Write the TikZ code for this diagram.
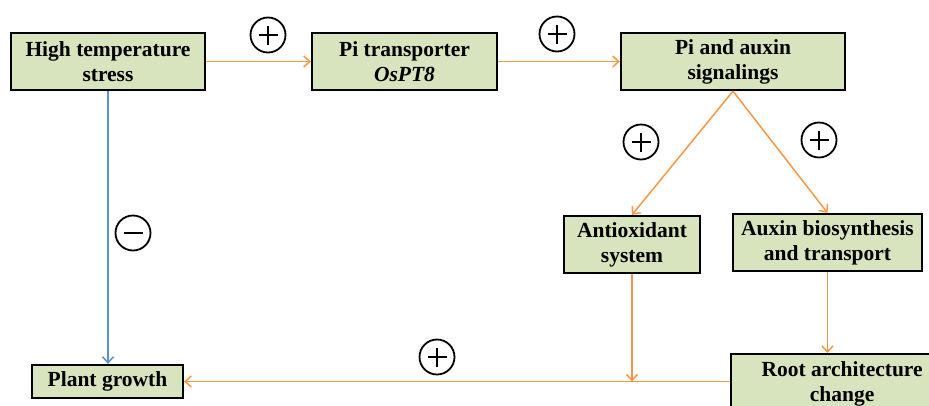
\documentclass[tikz,border=0pt]{standalone}
\usepackage{fontspec}
\setmainfont{Liberation Serif}
\usetikzlibrary{arrows.meta}
\definecolor{boxfill}{HTML}{D7E4BD}
\definecolor{arrorange}{HTML}{F79646}
\definecolor{arrblue}{RGB}{95,145,205}
\begin{document}
\begin{tikzpicture}[x=1pt,y=-1pt,
  box/.style={draw=black,fill=boxfill,line width=2.3pt,align=center,inner sep=0pt,
    font=\fontsize{21.5}{25}\selectfont\bfseries},
  oarr/.style={draw=arrorange,line width=1.5pt,-{Straight Barb[length=6pt,width=11pt]}},
  barr/.style={draw=arrblue,line width=1.5pt,-{Straight Barb[length=6pt,width=11pt]}},
  sign/.style={circle,draw=black,line width=1.8pt,minimum size=35pt,inner sep=0pt},
  plus/.style={sign,path picture={
    \draw[line width=1.5pt] ([xshift=-9.5pt]path picture bounding box.center) -- ([xshift=9.5pt]path picture bounding box.center);
    \draw[line width=1.5pt] ([yshift=-9.5pt]path picture bounding box.center) -- ([yshift=9.5pt]path picture bounding box.center);}},
  minus/.style={sign,path picture={
    \draw[line width=1.5pt] ([xshift=-9.5pt]path picture bounding box.center) -- ([xshift=9.5pt]path picture bounding box.center);}}
]
\useasboundingbox (0,0) rectangle (929,405);
\clip (0,0) rectangle (929,405);

\node[box,minimum width=194pt,minimum height=57pt] (ht) at (108,61.5) {High temperature\\stress};
\node[box,minimum width=185pt,minimum height=57pt] (pt) at (404.5,61.5) {Pi transporter\\\textit{OsPT8}};
\node[box,minimum width=224pt,minimum height=57pt] (pa) at (733,61.5) {Pi and auxin\\signalings};
\node[box,minimum width=136pt,minimum height=57pt] (ao) at (632,244.5) {Antioxidant\\system};
\node[box,minimum width=189pt,minimum height=57pt] (ab) at (827.5,242.5) {Auxin biosynthesis\\and transport};
\node[box,minimum width=151pt,minimum height=33pt] (pg) at (107.5,381.5) {Plant growth};
\node[box,minimum width=222pt,minimum height=60pt,anchor=north west] (ra) at (730,353) {Root architecture\\change};

\coordinate (j) at (ao.south |- pg.east);
\coordinate (abend) at (ab.south |- ra.north);
\coordinate (htend) at (ht.south |- pg.north);
\coordinate (raw) at (ra.west |- pg.east);

\draw[oarr] (ht.east) -- (pt.west);
\draw[oarr] (pt.east) -- (pa.west);
\draw[oarr] (pa.south) -- (ao.north);
\draw[oarr] (pa.south) -- (ab.north);
\draw[oarr] (ao.south) -- (j);
\draw[oarr] (ab.south) -- (abend);
\draw[oarr] (raw) -- (pg.east);
\draw[barr] (ht.south) -- (htend);

\node[plus] (s1) at (268,35) {};
\node[plus] (s2) at (557,34) {};
\node[plus] (s3) at (641,142) {};
\node[plus] (s4) at (819,140) {};
\node[minus] (s5) at (133,233) {};
\node[plus] (s6) at (437,357) {};
\end{tikzpicture}
\end{document}
